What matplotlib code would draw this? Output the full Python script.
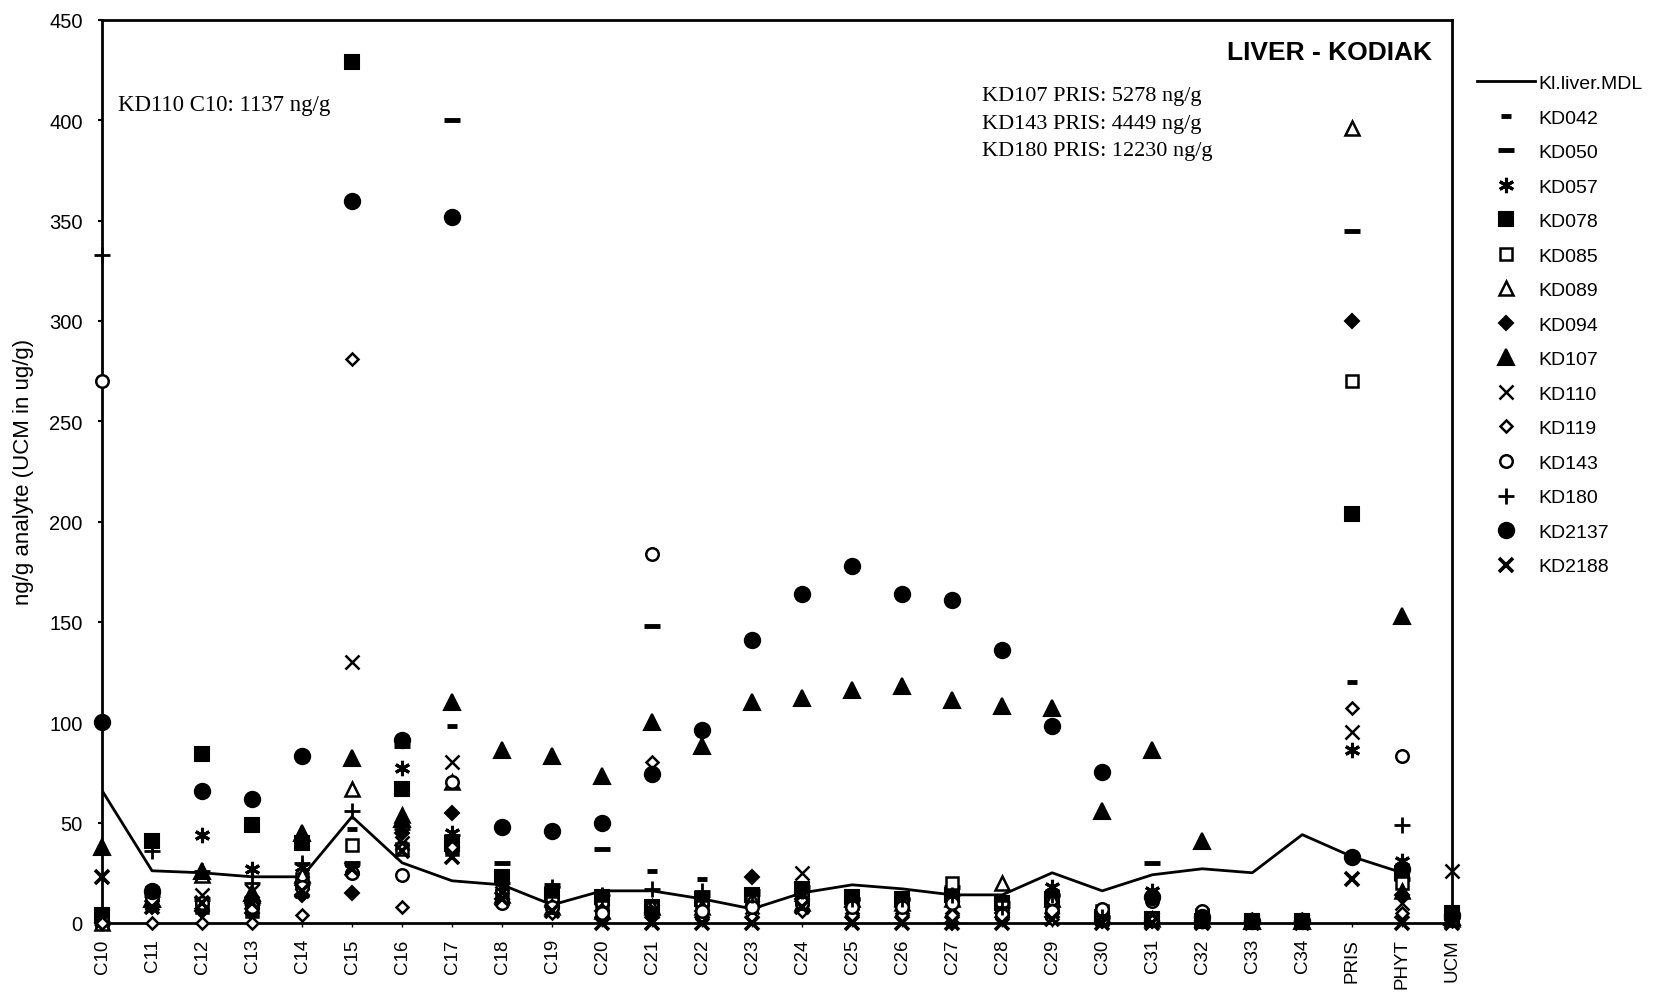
import numpy as np
import matplotlib.pyplot as plt

nan = np.nan

CATEGORIES = ["C10", "C11", "C12", "C13", "C14", "C15", "C16", "C17", "C18", "C19",
              "C20", "C21", "C22", "C23", "C24", "C25", "C26", "C27", "C28", "C29",
              "C30", "C31", "C32", "C33", "C34", "PRIS", "PHYT", "UCM"]

MDL = [66, 26, 25, 23, 23, 53, 30, 21, 19, 9, 16, 16, 12, 7, 15, 19, 17, 14, 14, 25,
       16, 24, 27, 25, 44, 33, 25, nan]

KD042 = [0, 12, 10, 8, 18, 47, 40, 98, 16, 12, 10, 26, 22, 12, 14, 10, 10, 12, 8, 10,
         2, 2, 1, 1, 1, 120, 18, 2]
KD050 = [0, 14, 12, 10, 20, 30, 88, 400, 30, 19, 37, 148, 14, 16, 18, 12, 12, 18, 10, 14,
         3, 30, 2, 1, 1, 345, 22, 3]
KD057 = [0, 10, 44, 27, 28, 27, 77, 45, 18, 10, 8, 6, 8, 10, 14, 9, 9, 12, 6, 18,
         2, 16, 1, 1, 1, 86, 31, 2]
KD078 = [4, 41, 84, 49, 40, 429, 67, 40, 23, 14, 13, 8, 12, 14, 17, 13, 12, 14, 10, 12,
         3, 2, 1, 1, 1, 204, 25, 5]
KD085 = [0, 15, 8, 6, 22, 39, 37, 37, 14, 10, 8, 7, 8, 12, 12, 10, 10, 20, 8, 10,
         6, 2, 4, 1, 1, 270, 20, 3]
KD089 = [0, 12, 24, 14, 24, 67, 54, 70, 14, 8, 6, 8, 8, 12, 10, 12, 10, 12, 20, 12,
         4, 2, 2, 1, 1, 396, 16, 2]
KD094 = [0, 8, 6, 5, 14, 15, 45, 55, 12, 8, 6, 5, 6, 23, 12, 8, 8, 0, 5, 3,
         1, 1, 1, 1, 1, 300, 14, 2]
KD107 = [38, 12, 26, 15, 45, 82, 52, 110, 86, 83, 73, 100, 88, 110, 112, 116, 118, 111, 108, 107,
         56, 86, 41, 1, 1, nan, 153, 3]
KD110 = [nan, 10, 14, 16, 20, 130, 40, 80, 15, 8, 6, 6, 6, 8, 25, 8, 8, 8, 6, 8,
         2, 2, 1, 1, 1, 95, 10, 26]
KD119 = [0, 0, 0, 0, 4, 281, 8, 38, 12, 5, 2, 80, 2, 3, 6, 4, 4, 4, 2, 2,
         1, 1, 1, 1, 1, 107, 5, 1]
KD143 = [270, 12, 10, 8, 18, 25, 24, 70, 10, 8, 5, 184, 6, 8, 10, 8, 8, 10, 4, 6,
         7, 11, 6, 1, 1, nan, 83, 2]
KD180 = [333, 36, 26, 20, 30, 56, 47, 44, 20, 18, 14, 17, 16, 14, 16, 12, 12, 14, 8, 14,
         3, 14, 2, 1, 1, nan, 49, 3]
KD2137 = [100, 16, 66, 62, 83, 360, 91, 352, 48, 46, 50, 74, 96, 141, 164, 178, 164, 161, 136, 98,
          75, 13, 3, 1, 1, 33, 27, 4]
KD2188 = [23, 8, 10, 10, 16, 27, 36, 33, 12, 6, 0, 0, 0, 0, 8, 0, 0, 0, 0, 2,
          0, 0, 0, 0, 0, 22, 0, 0]

# (label, values, marker, size, filled, edge width)
SERIES = [
    ("KD042", KD042, "_", 7, True, 3.5),
    ("KD050", KD050, "_", 12, True, 3.5),
    ("KD057", KD057, (6, 2, 0), 11, True, 2.2),
    ("KD078", KD078, "s", 9.5, True, 1.5),
    ("KD085", KD085, "s", 9, False, 1.8),
    ("KD089", KD089, "^", 10, False, 1.8),
    ("KD094", KD094, "D", 7.5, True, 1.5),
    ("KD107", KD107, "^", 11, True, 1.5),
    ("KD110", KD110, "x", 10, True, 1.8),
    ("KD119", KD119, "D", 6.5, False, 1.8),
    ("KD143", KD143, "o", 9, False, 1.8),
    ("KD180", KD180, "+", 11, True, 2.0),
    ("KD2137", KD2137, "o", 11, True, 1.5),
    ("KD2188", KD2188, "x", 10, True, 2.6),
]


def main():
    plt.rcParams["font.family"] = ["Liberation Sans", "DejaVu Sans"]
    fig = plt.figure(figsize=(16.56, 9.95), dpi=100)
    ax = fig.add_axes([0.0616, 0.0714, 0.8154, 0.9076])

    x = np.arange(len(CATEGORIES))

    ax.plot(x, MDL, color="black", lw=2, label="Kl.liver.MDL", zorder=2)
    for label, vals, marker, size, filled, mew in SERIES:
        ax.plot(x, vals, linestyle="none", marker=marker, markersize=size,
                markerfacecolor="black" if filled else "white",
                markeredgecolor="black", markeredgewidth=mew,
                label=label, clip_on=False, zorder=3)

    ax.set_xlim(0, len(CATEGORIES) - 1)
    ax.set_ylim(0, 450)
    ax.set_yticks(np.arange(0, 451, 50))
    ax.set_xticks(x)
    ax.set_xticklabels(CATEGORIES, rotation=90, fontsize=13.5)
    ax.tick_params(axis="y", labelsize=14.5, direction="out", length=3, width=1.5, pad=11)
    ax.tick_params(axis="x", direction="out", length=3, width=1, pad=8)
    for sp in ax.spines.values():
        sp.set_linewidth(2)

    ax.set_ylabel("ng/g analyte (UCM in ug/g)", fontsize=16)
    ax.yaxis.set_label_coords(-0.05, 0.5)

    ax.text(0.985, 0.965, "LIVER - KODIAK", transform=ax.transAxes, ha="right",
            va="center", fontsize=19, fontweight="bold")
    serif = ["Liberation Serif", "DejaVu Serif"]
    ax.text(0.012, 0.906, "KD110 C10: 1137 ng/g", transform=ax.transAxes,
            fontsize=16.5, family=serif, va="center")
    notes = ["KD107 PRIS: 5278 ng/g", "KD143 PRIS: 4449 ng/g", "KD180 PRIS: 12230 ng/g"]
    for i, t in enumerate(notes):
        ax.text(0.652, 0.916 - i * 0.0305, t, transform=ax.transAxes,
                fontsize=16, family=serif, va="center")

    fig.legend(loc="upper left", bbox_to_anchor=(0.886, 0.934), frameon=False,
               fontsize=14, borderpad=0, handlelength=3.0, handletextpad=0.15,
               labelspacing=0.87, numpoints=1)

    fig.savefig("out.png", dpi=100)
    plt.close(fig)


if __name__ == "__main__":
    main()
